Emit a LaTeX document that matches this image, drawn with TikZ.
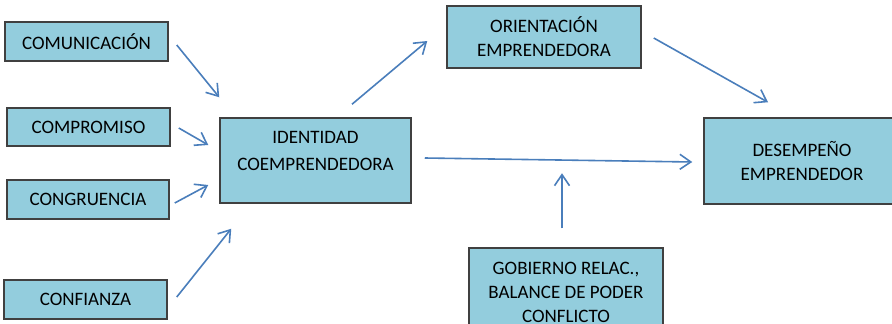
\documentclass[tikz,border=0pt]{standalone}
\usepackage{fontspec}
\setmainfont{Carlito}
\usetikzlibrary{arrows.meta}

\definecolor{azulcaja}{HTML}{93CDDD}
\definecolor{bordecaja}{HTML}{404040}
\definecolor{azulflecha}{HTML}{4A7EBB}

\tikzset{caja/.style = {draw = bordecaja, fill = azulcaja, line width = 1.5pt,
                        minimum width = #1, inner sep = 0pt, align = center,
                        font = \fontsize{19}{24}\selectfont},
         caja/.default = 163pt,
         texto/.style = {inner sep = 0pt, align = center,
                         font = \fontsize{19}{24}\selectfont},
         flecha/.style = {draw = azulflecha, line width = 1.6pt,
                          -{Straight Barb[length=11pt, width=15pt]}}
        }

\begin{document}
\begin{tikzpicture}[x=1pt, y=-1pt]
  \clip (0,0) rectangle (892,324);
  % cajas de la izquierda
  \node[caja, minimum height = 39pt] (comunic) at (86.5,41.5) {COMUNICACIÓN};
  \node[caja, minimum height = 38pt] (compro) at (88.5,127) {COMPROMISO};
  \node[caja=162pt, minimum height = 39pt] (congru) at (88,199.5) {CONGRUENCIA};
  \node[caja, minimum height = 39pt] (confia) at (85.5,299.5) {CONFIANZA};
  % caja central
  \node[caja=191pt, minimum height = 85pt] (ident) at (315.5,160.5) {};
  \node[texto] (identtxt) at (315.5,151.4) {IDENTIDAD\\[3pt]COEMPRENDEDORA};
  % cajas de la derecha
  \node[caja=194pt, minimum height = 62pt] (orient) at (544,37) {ORIENTACIÓN\\EMPRENDEDORA};
  \node[caja=196pt, minimum height = 86pt] (desemp) at (802,161) {DESEMPEÑO\\EMPRENDEDOR};
  \node[caja=194pt, minimum height = 88pt] (gobier) at (566,292) {GOBIERNO RELAC.,\\BALANCE DE PODER\\CONFLICTO};
  % flechas
  \draw[flecha] ([shift={(8,3.5)}]comunic.east) -- ([shift={(0,-20)}]ident.north west);
  \draw[flecha] ([shift={(8,1)}]compro.east) -- ([shift={(-11,-15.5)}]ident.west);
  \draw[flecha] ([shift={(5,3.5)}]congru.east) -- ([shift={(-11,24.5)}]ident.west);
  \draw[flecha] ([shift={(9,-2.5)}]confia.east) -- ([shift={(12,25)}]ident.south west);
  \draw[flecha] ([shift={(36.5,-13)}]ident.north) -- ([shift={(-19,4)}]orient.west);
  \draw[flecha] ([shift={(13,-2.5)}]ident.east) -- ([shift={(-11,1)}]desemp.west);
  \draw[flecha] ([shift={(12,1)}]orient.east) -- ([shift={(-34,-15)}]desemp.north);
  \draw[flecha] ([shift={(-4,-19)}]gobier.north) -- ([shift={(-4,-74)}]gobier.north);
\end{tikzpicture}
\end{document}
